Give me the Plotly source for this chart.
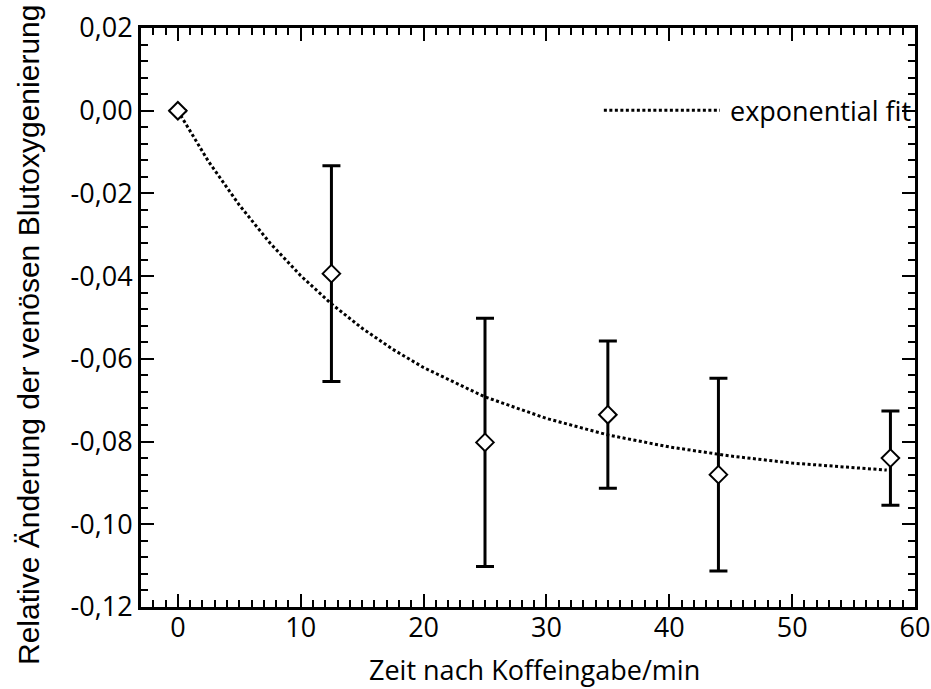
import plotly.graph_objects as go

# Measured relative change in venous blood oxygenation after caffeine intake
time_min = [0, 12.5, 25, 35, 44, 58]
rel_change = [0.0, -0.0394, -0.0802, -0.0735, -0.0880, -0.0840]
rel_error = [None, 0.0261, 0.0300, 0.0178, 0.0233, 0.0114]

# Exponential fit curve, sampled along time
fit_time = [0, 2.5, 5, 7.5, 10, 12.5, 15, 17.5, 20, 25, 30, 35, 40, 45, 50, 55, 57.7]
fit_value = [0.0, -0.0123, -0.0228, -0.0320, -0.0399, -0.0467, -0.0526, -0.0577,
             -0.0621, -0.0692, -0.0744, -0.0784, -0.0813, -0.0835, -0.0852,
             -0.0864, -0.0869]

x_ticks = [0, 10, 20, 30, 40, 50, 60]
y_ticks = [0.02, 0.0, -0.02, -0.04, -0.06, -0.08, -0.10, -0.12]
y_tick_text = ["0,02", "0,00", "-0,02", "-0,04", "-0,06", "-0,08", "-0,10", "-0,12"]

x_title = "Zeit nach Koffeingabe/min"
y_title = "Relative Änderung der venösen Blutoxygenierung"
fit_label = "exponential fit"

tick_font = dict(family="Open Sans, DejaVu Sans, sans-serif", size=27, color="black")
dot_line = dict(color="black", width=3, dash="3px,2.5px")

fig = go.Figure()

fig.add_trace(go.Scatter(
    x=fit_time, y=fit_value, mode="lines",
    line=dot_line, showlegend=False, hoverinfo="skip",
))

fig.add_trace(go.Scatter(
    x=time_min, y=rel_change, mode="markers",
    marker=dict(symbol="diamond", size=13.5, color="white",
                line=dict(color="black", width=2)),
    error_y=dict(type="data", array=rel_error, visible=True,
                 color="black", thickness=3, width=9),
    showlegend=False,
))

axis_common = dict(
    showline=True, linecolor="black", linewidth=3, mirror="allticks",
    ticks="inside", ticklen=13, tickwidth=2, tickcolor="black",
    showgrid=False, zeroline=False, tickfont=tick_font,
)

fig.update_xaxes(
    range=[-3, 60], tickvals=x_ticks, ticklabelstandoff=-5,
    minor=dict(dtick=1, ticks="inside", ticklen=7, tickwidth=2, tickcolor="black"),
    **axis_common,
)
fig.update_yaxes(
    range=[-0.12, 0.02], tickvals=y_ticks, ticktext=y_tick_text,
    minor=dict(dtick=0.004, ticks="inside", ticklen=7, tickwidth=2, tickcolor="black"),
    **axis_common,
)

# Legend entry: dotted sample line plus label
fig.add_shape(type="line", xref="paper", yref="paper",
              x0=0.598, x1=0.748, y0=0.858, y1=0.858, line=dot_line)
fig.add_annotation(text=fit_label, xref="paper", yref="paper",
                   x=0.998, y=0.858, xanchor="right", yanchor="middle",
                   showarrow=False, font=tick_font)

# Axis titles
fig.add_annotation(text=x_title, xref="paper", yref="paper",
                   x=0.509, y=-0.108, xanchor="center", yanchor="middle",
                   showarrow=False, font=tick_font)
fig.add_annotation(text=y_title, xref="paper", yref="paper",
                   x=-0.1453, y=0.469, xanchor="center", yanchor="middle",
                   textangle=-90, showarrow=False,
                   font=dict(family="Liberation Sans, Arial, sans-serif", size=30, color="black"))

fig.update_layout(
    width=931, height=689,
    margin=dict(l=141, r=16, t=28, b=82, autoexpand=False),
    paper_bgcolor="white", plot_bgcolor="white",
    showlegend=False,
)

fig.write_html("out.html")
